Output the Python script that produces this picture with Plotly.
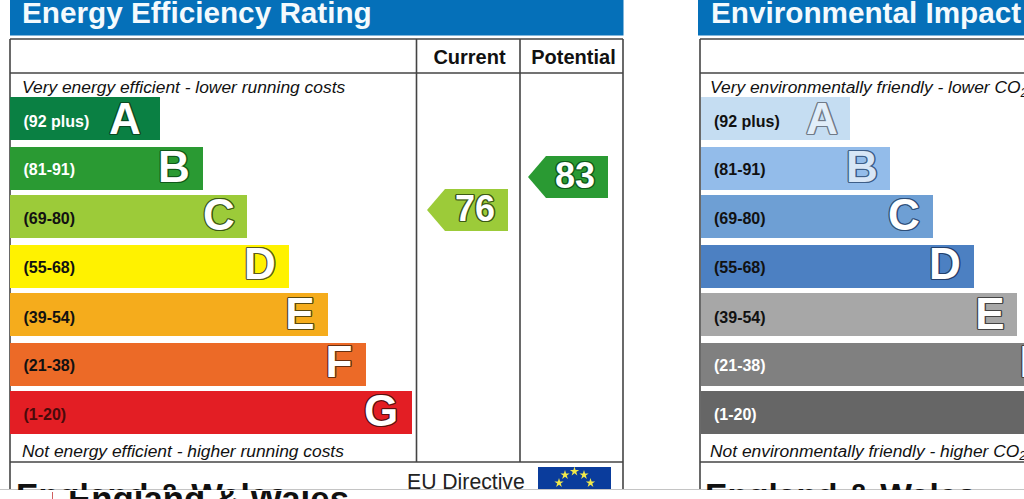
import plotly.graph_objects as go

# ---- data ----
bands = ["A", "B", "C", "D", "E", "F", "G"]
ranges = ["(92 plus)", "(81-91)", "(69-80)", "(55-68)", "(39-54)", "(21-38)", "(1-20)"]
energy_bar_lengths = [150, 193, 237, 279, 318, 356, 402]
enviro_bar_lengths = [149, 189, 232, 273, 316, 354, 396]
energy_colors = ["#0A8043", "#2A9A33", "#9CCB39", "#FFF200", "#F5AC1C", "#EC6A27", "#E31E24"]
enviro_colors = ["#C5DDF2", "#93BCEA", "#6E9FD4", "#4C80C2", "#A7A7A7", "#808080", "#666666"]
energy_label_colors = ["#FFFFFF", "#FFFFFF", "#111111", "#111111", "#111111", "#111111", "#4A0A0A"]
enviro_label_colors = ["#111111", "#111111", "#111111", "#111111", "#111111", "#FFFFFF", "#FFFFFF"]
energy_outline = ["#0B4A22", "#0F5A1A", "#3C5A14", "#5A5A20", "#5A4A10", "#6A3010", "#5A1010"]
enviro_outline = ["#707A88", "#3E5E88", "#2E4E78", "#24406C", "#444444", "#444444", "#333333"]
energy_letter_x = [125, 174, 219, 260, 300, 339, 381]
enviro_letter_x = [822, 862, 904, 945, 990, 1033, 1080]
current_score = 76
potential_score = 83
titles = ["Energy Efficiency Rating", "Environmental Impact (CO<sub>2</sub>) Rating"]
columns = ["Current", "Potential"]

FONT = "Liberation Sans"
row_tops = [97, 147, 195, 245, 293, 343, 391]
ROW_H = 43
LEFT_A, LEFT_B = 10, 701


def score_to_y(s):
    return 210 - (s - 76) * 33 / 7


def band_index(s):
    lows = [92, 81, 69, 55, 39, 21, 1]
    return next(i for i, low in enumerate(lows) if s >= low)


fig = go.Figure()


def rect(x0, y0, x1, y1, color):
    fig.add_shape(type="rect", x0=x0, x1=x1, y0=y0, y1=y1, fillcolor=color,
                  line_width=0, layer="below", xref="x", yref="y")


def line(x0, y0, x1, y1, color="#444444", w=1.6):
    fig.add_shape(type="line", x0=x0, x1=x1, y0=y0, y1=y1,
                  line=dict(color=color, width=w), layer="below", xref="x", yref="y")


def outline(color, r=1.3):
    d = [(1, 0), (-1, 0), (0, 1), (0, -1), (.7, .7), (-.7, .7), (.7, -.7), (-.7, -.7)]
    return ", ".join(f"{a*r:.2f}px {b*r:.2f}px 0 {color}" for a, b in d)


def text(x, y, s, size, color="#111111", weight=400, style="normal", pos="middle right",
         shadow=None, xa="x", ya="y"):
    tf = dict(family=FONT, size=size, color=color, weight=weight, style=style)
    if shadow:
        tf["shadow"] = shadow
    fig.add_trace(go.Scatter(x=[x], y=[y], text=[s], mode="text", textposition=pos,
                             textfont=tf, showlegend=False, hoverinfo="skip",
                             xaxis=xa, yaxis=ya))


# title bands
rect(10, 0, 623.5, 35.5, "#0570B9")
rect(698, 0, 1030, 35.5, "#0570B9")
text(22, 16, titles[0], 29.7, "#F4FAFD", 700)
text(711, 16, titles[1], 29.7, "#F4FAFD", 700)

# frames
line(10, 39, 623, 39)
line(10, 73, 623, 73)
line(10, 462, 623, 462)
line(10, 39, 10, 490)
line(623, 39, 623, 490)
line(416.5, 39, 416.5, 462)
line(520, 39, 520, 462)
line(700, 39, 1030, 39)
line(700, 73, 1030, 73)
line(700, 462, 1030, 462)
line(700, 39, 700, 490)

# column heads
text(469.5, 59, columns[0], 20, "#111111", 700, pos="middle center")
text(573.5, 59, columns[1], 20, "#111111", 700, pos="middle center")

# rating bars
centers = [t + ROW_H / 2 for t in row_tops]
for base, lengths, colors in ((LEFT_A, energy_bar_lengths, energy_colors),
                              (LEFT_B, enviro_bar_lengths, enviro_colors)):
    fig.add_trace(go.Bar(orientation="h", y=centers, x=lengths, base=[base] * 7, width=ROW_H,
                         marker=dict(color=colors, line_width=0), showlegend=False,
                         hoverinfo="skip"))

# band labels and letters
label_y = [123, 171, 220, 269, 319, 367, 416]
letter_y = [123, 171, 219, 268, 318, 366, 415]
for i in range(7):
    text(23.5, label_y[i], ranges[i], 16, energy_label_colors[i], 700)
    text(714, label_y[i], ranges[i], 16, enviro_label_colors[i], 700)
    text(energy_letter_x[i], letter_y[i], bands[i], 44, "#FFFFFF", 700,
         pos="middle center", shadow=outline(energy_outline[i]))
    lc = "#E2EEF9" if i == 0 else ("#D8E6F6" if i == 1 else "#FFFFFF")
    text(enviro_letter_x[i], letter_y[i], bands[i], 44, lc, 700,
         pos="middle center", shadow=outline(enviro_outline[i]))

# descriptions
text(22, 89, "Very energy efficient - lower running costs", 17.4, "#111111", 400, "italic")
text(22, 452.5, "Not energy efficient - higher running costs", 17.4, "#111111", 400, "italic")
text(710, 89, "Very environmentally friendly - lower CO<sub>2</sub> emissions", 17.4, "#111111", 400, "italic")
text(710, 452.5, "Not environmentally friendly - higher CO<sub>2</sub> emissions", 17.4, "#111111", 400, "italic")

# score tags
for score, tip, right, cx in ((current_score, 427, 508, 475), (potential_score, 528, 608, 575)):
    cy = score_to_y(score)
    i = band_index(score)
    fig.add_trace(go.Scatter(
        x=[tip, tip + 18, right, right, tip + 18, tip],
        y=[cy, cy - 21, cy - 21, cy + 21, cy + 21, cy],
        mode="lines", fill="toself", fillcolor=energy_colors[i], line_width=0,
        showlegend=False, hoverinfo="skip"))
    text(cx, cy + 2, str(score), 36, "#FFFFFF", 700, pos="middle center",
         shadow=outline(energy_outline[i], 1.4))

# footer
text(16, 499, "England & Wales", 33.6, "#111111", 700)
text(705, 499, "England & Wales", 33.6, "#111111", 700)
text(407, 484, "EU Directive", 21.2, "#222222")
rect(538, 467, 611, 491, "#0A3C9C")
fig.add_trace(go.Scatter(x=[559, 565, 574.5, 584, 590.5], y=[483, 475, 471.5, 475, 483], mode="markers",
                         marker=dict(symbol="star", size=7, color="#F2E94A", line_width=0),
                         showlegend=False, hoverinfo="skip"))
# second, overlaid fragment at the very bottom
text(68, 502, "England & Wales", 34.8, "#111111", 700, xa="x2", ya="y2")
fig.add_trace(go.Scatter(x=[52.5], y=[495.5], mode="markers", xaxis="x2", yaxis="y2",
                         marker=dict(symbol="line-ns", size=5, line=dict(color="#D06060", width=1)),
                         showlegend=False, hoverinfo="skip"))
line(0, 489.7, 1024, 489.7, "#C4C4C4", 1.2)

ax = dict(visible=False, fixedrange=True)
fig.update_layout(
    width=1024, height=499, margin=dict(l=0, r=0, t=0, b=0, pad=0),
    paper_bgcolor="#FFFFFF", plot_bgcolor="rgba(0,0,0,0)", barmode="overlay", hovermode=False,
    xaxis=dict(range=[0, 1024], domain=[0, 1], **ax),
    yaxis=dict(range=[490, 0], domain=[9 / 499, 1], **ax),
    xaxis2=dict(range=[0, 1024], domain=[0, 1], anchor="y2", **ax),
    yaxis2=dict(range=[499, 491], domain=[0, 8 / 499], anchor="x2", **ax),
)
fig.write_html("out.html", config=dict(displayModeBar=False),
               post_script="document.body.style.margin='0';document.documentElement.style.overflow='hidden';")
